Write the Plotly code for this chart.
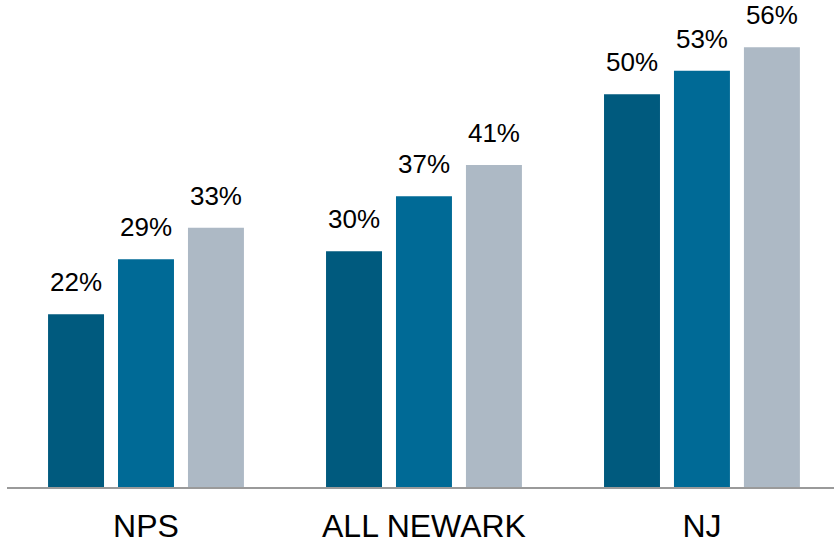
import plotly.graph_objects as go

categories = ["NPS", "ALL NEWARK", "NJ"]
series_names = ["Series 1", "Series 2", "Series 3"]
values_1 = [22, 30, 50]
values_2 = [29, 37, 53]
values_3 = [33, 41, 56]
colors = ["#005A7E", "#006A96", "#ADB9C5"]

fig = go.Figure()
for name, vals, col in zip(series_names, [values_1, values_2, values_3], colors):
    fig.add_trace(go.Bar(
        x=categories, y=vals, name=name, marker_color=col, marker_line_width=0,
        text=[f"<span style='font-size:26px'>{v}%</span><br> " for v in vals],
        textposition="outside", cliponaxis=False, constraintext="none",
        textfont=dict(family="Liberation Sans, Arial", size=13, color="#000000"),
    ))

fig.update_layout(
    width=834, height=543,
    margin=dict(l=7, r=0, t=0, b=56),
    paper_bgcolor="white", plot_bgcolor="white",
    barmode="group", bargap=0.245, bargroupgap=0.2,
    showlegend=False,
    font=dict(family="Liberation Sans, Arial", color="#000000"),
)
fig.update_xaxes(
    range=[-0.5, 2.475], showline=True, linecolor="#9A9A9A", linewidth=2,
    ticks="", showgrid=False, tickfont=dict(size=32, color="#000000"),
    ticklabelstandoff=10,
)
fig.update_yaxes(range=[0, 62], visible=False, showgrid=False)

fig.write_html("out.html", config={"displayModeBar": False},
               post_script="document.body.style.margin='0';")
